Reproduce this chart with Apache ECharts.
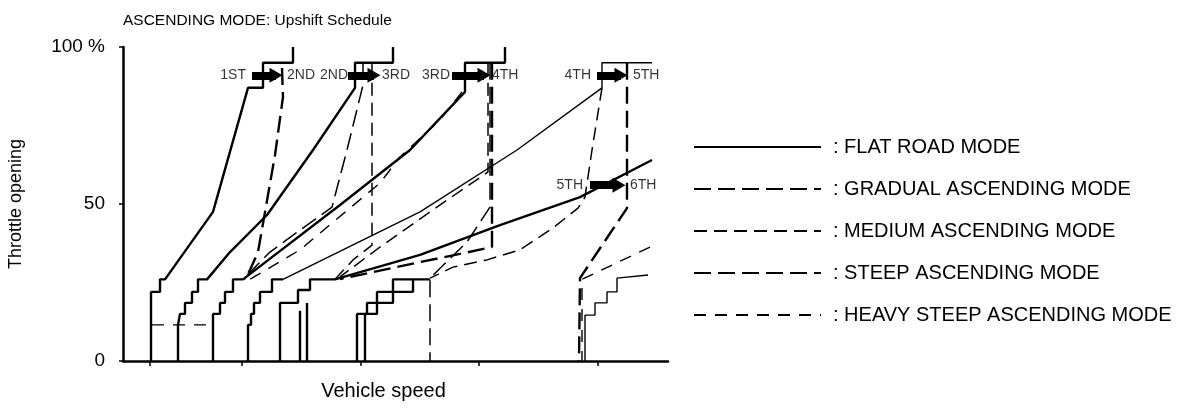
<!DOCTYPE html>
<html>
<head>
<meta charset="utf-8">
<title>ASCENDING MODE: Upshift Schedule</title>
<script src="https://cdn.jsdelivr.net/npm/echarts@6/dist/echarts.min.js"></script>
<style>
  html, body { margin: 0; padding: 0; background: #fff; }
  #chart { width: 1200px; height: 410px; }
</style>
</head>
<body>
<div id="chart"></div>
<script>
// vehicle speed: arbitrary units (no scale printed), throttle opening in %
var speedTicks = [27, 119, 238, 356, 475];

// paths shared by several modes (drawn heavy solid)
var shared12 = [[28, 0], [28, 22], [37, 22], [37, 26], [42, 26], [90, 47.5], [125, 87], [140, 87], [140, 95], [170, 95], [170, 100]];
var shared23 = [[55, 0], [55, 11.5], [57, 11.5], [57, 15], [62, 15], [62, 18.5], [69, 18.5], [69, 22], [75, 22], [75, 26], [84, 26], [107, 34.7], [144, 46.5], [190, 67.2], [232, 87], [232, 95], [270, 95], [270, 100]];
var shared34 = [[90, 0], [90, 15], [97, 15], [97, 18.5], [102, 18.5], [102, 22], [110, 22], [110, 26], [120, 26], [217, 49.7], [287, 67.2], [342, 85.7], [342, 95], [382, 95], [382, 100]];
var sharedStair4 = [[125, 0], [125, 11.5], [128, 11.5], [128, 15], [131, 15], [131, 18.5], [137, 18.5], [137, 22], [149, 22], [149, 26], [160, 26]];
var shared56 = [[157, 0], [157, 18.5], [175, 18.5], [175, 22.6], [187, 22.6], [187, 26], [212, 26], [297, 33.8], [377, 43.3], [457, 52.2], [529, 64]];
var sharedPostA = [[177, 0], [177, 16]];
var sharedPostB = [[184, 0], [184, 18.5]];
var sharedStair6a = [[234, 0], [234, 15], [244, 15], [244, 18.5], [254, 18.5], [254, 22], [270, 22], [270, 26], [307, 26]];
var sharedStair6b = [[242, 0], [242, 15], [254, 15], [254, 18.5], [270, 18.5], [270, 22], [290, 22], [290, 26]];

// flat road mode
var flat45 = [[160, 26], [297, 47.5], [394, 67.2], [479, 87], [479, 95], [529, 95]];
var flat56 = [[462, 0], [462, 14.6], [472, 14.6], [472, 18.5], [484, 18.5], [484, 22], [494, 22], [494, 26.4], [525, 27.4]];

// gradual ascending mode
var gradual23 = [[240, 95], [240, 87.9], [224, 67.2], [209, 49], [184, 43.3], [147, 34.7], [120, 26]];
var gradual34 = [[367, 95], [367, 49], [344, 37.9], [307, 26.4], [307, 0]];

// medium ascending mode
var medium23 = [[249, 95], [249, 36.9], [230, 32.2], [212, 26]];
var medium34 = [[365, 95], [365, 60.2], [307, 47.5], [257, 36.3], [217, 26.8]];
var medium45 = [[479, 87], [469, 67.2], [462, 52.2], [455, 48.7], [430, 42.4], [397, 35.4], [364, 32.2], [330, 29.9], [307, 26.4]];

// steep ascending mode
var steep12 = [[159, 93.3], [160, 84.1], [152, 65.6], [135, 34.7], [127, 29], [122, 26]];
var steep34 = [[369, 95], [369, 36.3], [337, 34.1], [297, 31.5], [217, 26.1]];
var steep56 = [[504, 95], [504, 48.7], [457, 26.4], [456, 0]];

// heavy steep ascending mode
var heavy12 = [[29, 11.5], [90, 11.5]];
var heavy34 = [[339, 85.7], [317, 76.8], [277, 65], [257, 56.7], [177, 35.4], [127, 26]];
var heavy56 = [[527, 36.3], [459, 26], [459, 0]];

// shift arrows and gear names
var gearFrom = ['1ST', '2ND', '3RD', '4TH', '5TH'];
var gearTo = ['2ND', '3RD', '4TH', '5TH', '6TH'];
var shiftStart = [129, 225, 329, 474, 467];
var shiftEnd = [153, 251, 361, 498, 496];
var shiftLevel = [91, 91, 91, 91, 56];
var fromLabelX = [123, 225, 327, 468, 460];
var toLabelX = [164, 259, 369, 510, 507];

var FONT = '"Liberation Sans", Arial, sans-serif';

var modes = [
  { name: 'FLAT ROAD MODE', lines: [flat45, flat56], style: { type: 'solid', width: 1.4 } },
  { name: 'GRADUAL ASCENDING MODE', lines: [gradual23, gradual34], style: { type: [17, 7], width: 1.5 } },
  { name: 'MEDIUM ASCENDING MODE', lines: [medium23, medium34, medium45], style: { type: [13, 7], width: 1.5 } },
  { name: 'STEEP ASCENDING MODE', lines: [steep12, steep34, steep56], style: { type: [17, 7], width: 2.4 } },
  { name: 'HEAVY STEEP ASCENDING MODE', lines: [heavy12, heavy34, heavy56], style: { type: [12, 9], width: 1.4 } }
];
var sharedLines = [shared12, shared23, shared34, sharedStair4, shared56, sharedPostA, sharedPostB, sharedStair6a, sharedStair6b];

var series = [];
modes.forEach(function (m) {
  m.lines.forEach(function (pts) {
    series.push({
      name: m.name,
      type: 'line',
      data: pts,
      symbol: 'none',
      showSymbol: false,
      silent: true,
      lineStyle: { color: '#000', type: m.style.type, width: m.style.width },
      itemStyle: { color: '#000' }
    });
  });
});
sharedLines.forEach(function (pts) {
  series.push({
    name: 'shared',
    type: 'line',
    data: pts,
    symbol: 'none',
    silent: true,
    lineStyle: { color: '#000', width: 2.4 }
  });
});

// shift arrows
var arrows = [];
for (var i = 0; i < gearFrom.length; i++) {
  arrows.push([{ coord: [shiftStart[i], shiftLevel[i]] }, { coord: [shiftEnd[i], shiftLevel[i]] }]);
}
series.push({
  name: 'shift',
  type: 'line',
  data: [],
  markLine: {
    silent: true,
    symbol: ['none', 'triangle'],
    symbolSize: [15, 13],
    label: { show: false },
    lineStyle: { color: '#000', type: 'solid', width: 8 },
    data: arrows
  }
});

// gear labels
var fromPts = [], toPts = [];
for (var j = 0; j < gearFrom.length; j++) {
  fromPts.push({ value: [fromLabelX[j], shiftLevel[j]], name: gearFrom[j] });
  toPts.push({ value: [toLabelX[j], shiftLevel[j]], name: gearTo[j] });
}
series.push({
  name: 'gearFrom', type: 'scatter', data: fromPts, symbolSize: 0, silent: true,
  label: { show: true, position: 'left', distance: 0, formatter: '{b}', color: '#000', fontSize: 14, fontFamily: FONT }
});
series.push({
  name: 'gearTo', type: 'scatter', data: toPts, symbolSize: 0, silent: true,
  label: { show: true, position: 'right', distance: 0, formatter: '{b}', color: '#000', fontSize: 14, fontFamily: FONT }
});

var chart = echarts.init(document.getElementById('chart'));
chart.setOption({
  animation: false,
  backgroundColor: '#fff',
  textStyle: { fontFamily: FONT, color: '#000' },
  title: {
    text: 'ASCENDING MODE: Upshift Schedule',
    left: 118, top: 8,
    textStyle: { fontSize: 15.5, fontWeight: 'normal', color: '#000', fontFamily: FONT }
  },
  legend: {
    data: modes.map(function (m) { return m.name; }),
    orient: 'vertical',
    left: 688, top: 132,
    itemWidth: 127, itemHeight: 20, itemGap: 22,
    selectedMode: false,
    itemStyle: { opacity: 0 },
    formatter: ': {name}',
    textStyle: { fontSize: 20, lineHeight: 20, color: '#000', fontFamily: FONT, padding: [0, 0, 0, 7] }
  },
  grid: { left: 123, right: 532, top: 47, bottom: 49 },
  xAxis: {
    type: 'value', min: 0, max: 545,
    name: 'Vehicle speed', nameLocation: 'middle', nameGap: 20,
    nameTextStyle: { fontSize: 20, color: '#000', fontFamily: FONT, padding: [0, 24, 0, 0] },
    axisLine: { show: true, onZero: false, lineStyle: { color: '#000', width: 2.5 } },
    axisTick: { show: true, length: 5, customValues: speedTicks, lineStyle: { color: '#000', width: 1.5 } },
    axisLabel: { show: false },
    splitLine: { show: false }
  },
  yAxis: {
    type: 'value', min: 0, max: 100, interval: 50,
    name: 'Throttle opening', nameLocation: 'middle', nameGap: 98,
    nameTextStyle: { fontSize: 18, color: '#000', fontFamily: FONT },
    axisLine: { show: true, onZero: false, lineStyle: { color: '#000', width: 2.5 } },
    axisTick: { show: true, length: 4, lineStyle: { color: '#000', width: 1.5 } },
    axisLabel: {
      margin: 18, fontSize: 19, color: '#000', fontFamily: FONT,
      formatter: function (v) { return v === 100 ? '100 %' : String(v); }
    },
    splitLine: { show: false }
  },
  series: series
});
</script>
</body>
</html>
